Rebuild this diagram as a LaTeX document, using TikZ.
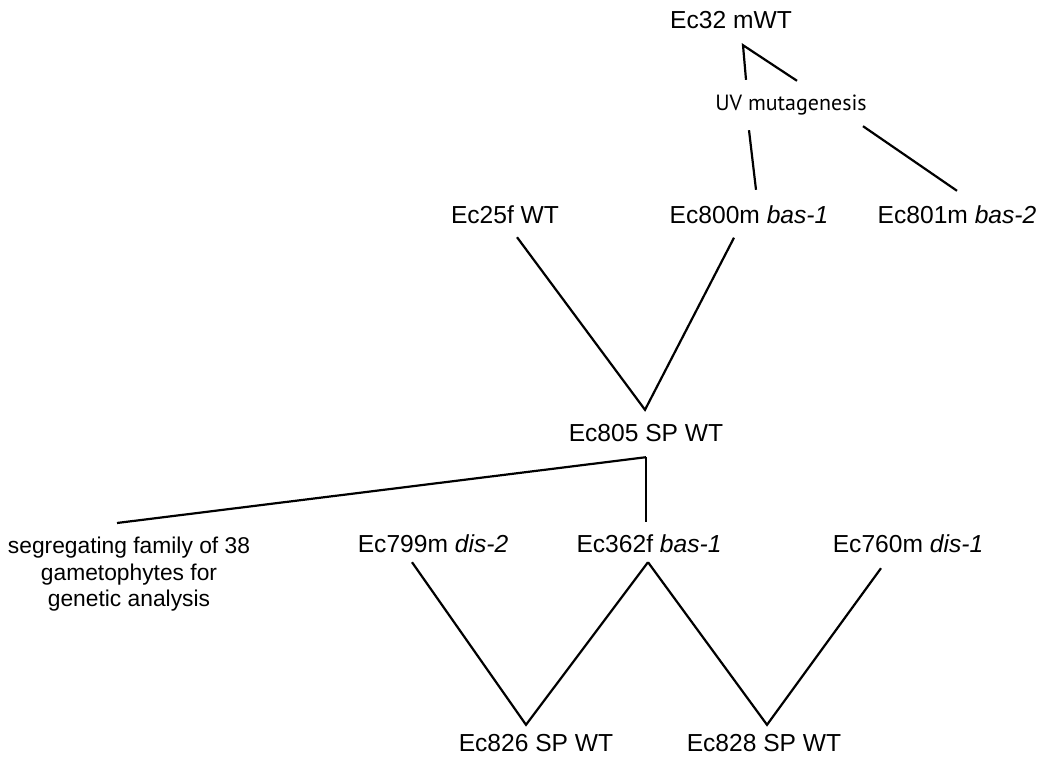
\documentclass[tikz,border=0pt]{standalone}
\usepackage{fontspec}
\setmainfont{Liberation Sans}
\newfontfamily\uvfont{PT Sans}
\usetikzlibrary{positioning}
\tikzset{
	strain/.style={inner sep=0pt, text height=17pt, text depth=0pt, font=\fontsize{24.6}{28}\selectfont},
	cross/.style={line width=2.2pt},
}
\begin{document}
\begin{tikzpicture}[x=1pt, y=-1pt]
\useasboundingbox (0,0) rectangle (1046,762);
	\node (E32) [strain] at (731,20) {Ec32 mWT};
	\node (UV) [inner sep=0pt, text height=13pt, text depth=0pt, font=\uvfont\fontsize{22}{25}\selectfont] at (791,104) {UV mutagenesis};
	\node (E800) [strain] at (749,215) {Ec800m \textit{bas-1}};
	\node (E25) [strain, left of=E800, node distance=244pt] {Ec25f WT};
	\node (E801) [strain, right of=E800, node distance=208pt] {Ec801m \textit{bas-2}};
	\node (E805) [strain] at (646,433) {Ec805 SP WT};
	\node (E362) [strain, below of=E805, xshift=3pt, node distance=111pt] {Ec362f \textit{bas-1}};
	\node (E799) [strain, left of=E362, node distance=216pt] {Ec799m \textit{dis-2}};
	\node (E760) [strain, right of=E362, node distance=259pt] {Ec760m \textit{dis-1}};
	\node (seg) [anchor=north, inner sep=0pt, align=center, font=\fontsize{22.8}{26.5}\selectfont] at (129,537) {segregating family of 38\\gametophytes for\\genetic analysis};
	\node (E826) [strain] at (536,743) {Ec826 SP WT};
	\node (E828) [strain, right of=E826, node distance=228pt] {Ec828 SP WT};
	% mutagenesis
	\draw [cross] ([xshift=-45pt, yshift=17.5pt]UV.north) -- ([xshift=12pt, yshift=-16.5pt]E32.south) -- ([xshift=6pt, yshift=16.5pt]UV.north);
	\draw [cross] ([xshift=-42pt, yshift=-19.5pt]UV.south) -- ([xshift=7pt, yshift=16.5pt]E800.north);
	\draw [cross] ([xshift=72pt, yshift=-15.5pt]UV.south) -- ([yshift=15.5pt]E801.north);
	% crosses
	\draw [cross] ([xshift=12pt, yshift=-13.5pt]E25.south) -- ([xshift=-1pt, yshift=14.5pt]E805.north) -- ([xshift=-15pt, yshift=-14pt]E800.south);
	\draw [cross] ([yshift=-15.5pt]E805.south) coordinate (fork) -- ([xshift=-3pt, yshift=13.5pt]E362.north);
	\draw [cross] (fork) -- ([xshift=-12pt, yshift=14pt]seg.north);
	\draw [cross] ([xshift=-21pt, yshift=-9.5pt]E799.south) -- ([xshift=-10pt, yshift=9.5pt]E826.north) -- ([xshift=-1pt, yshift=-9.5pt]E362.south);
	\draw [cross] ([xshift=-1pt, yshift=-9.5pt]E362.south) -- ([xshift=3pt, yshift=9.5pt]E828.north) -- ([xshift=-27pt, yshift=-15.5pt]E760.south);
\end{tikzpicture}
\end{document}
